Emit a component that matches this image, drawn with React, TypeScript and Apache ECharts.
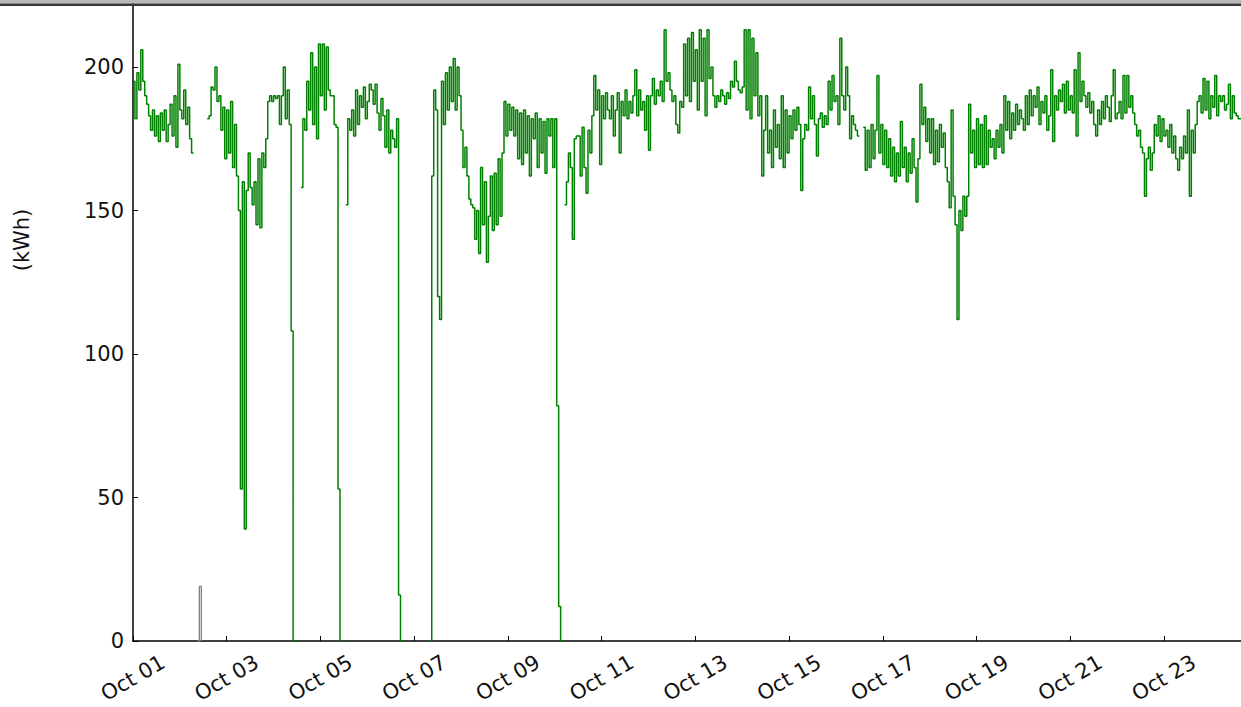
import React, { useEffect, useRef } from "react";
import * as echarts from "echarts";

// Hourly energy readings (kWh), one array of 24 hourly values per day, Oct 01 .. Oct 24
const oct01 = [195,182,198,192,206,195,190,187,183,178,185,176,183,174,184,178,185,174,180,187,176,190,172,201];
const oct02 = [185,182,192,180,186,175,170,null,null,null,null,null,null,null,182,183,193,192,200,188,190,178,186,168];
const oct03 = [185,170,188,165,180,162,150,53,160,39,157,170,158,152,160,145,168,144,170,165,175,188,190,188];
const oct04 = [190,189,190,180,190,200,182,192,180,108,0,null,null,null,158,182,178,195,185,205,180,200,175,208];
const oct05 = [190,208,185,207,192,190,190,180,179,53,0,null,null,152,182,178,185,176,192,180,190,186,193,182];
const oct06 = [188,194,192,187,194,184,178,189,183,172,185,170,178,175,172,182,16,0,null,null,null,null,null,null];
const oct07 = [null,null,null,null,null,null,null,null,0,162,192,185,120,112,195,180,198,185,200,188,203,185,200,190];
const oct08 = [178,165,172,162,154,152,151,140,150,135,165,145,160,132,148,162,143,163,145,168,148,170,188,176];
const oct09 = [187,178,186,176,185,168,184,166,185,170,183,162,182,175,184,165,182,170,181,163,182,176,182,165];
const oct10 = [182,82,12,0,null,152,160,170,165,140,175,176,176,162,179,165,156,178,170,183,197,185,192,166];
const oct11 = [190,182,191,185,182,190,176,185,191,170,188,183,192,182,188,184,190,199,183,192,185,188,178,190];
const oct12 = [171,190,196,187,192,190,195,188,213,195,198,192,188,190,180,177,188,186,208,190,210,188,212,195];
const oct13 = [206,185,213,195,210,183,213,196,200,190,186,190,188,192,190,187,191,189,195,193,202,195,192,191];
const oct14 = [193,213,185,213,182,210,190,205,183,190,162,178,190,170,178,165,185,172,180,168,190,165,185,170];
const oct15 = [183,175,185,178,186,180,157,175,180,178,193,182,190,180,169,182,184,179,183,180,195,185,197,188];
const oct16 = [190,180,210,190,185,200,190,175,183,180,178,176,null,null,179,164,178,165,180,168,178,197,170,180];
const oct17 = [166,178,165,175,162,172,160,170,162,181,165,172,160,170,163,175,165,153,168,194,180,186,174,182];
const oct18 = [170,182,166,178,167,180,172,177,165,160,151,185,155,145,112,150,143,155,148,155,187,170,178,165];
const oct19 = [182,166,180,165,183,166,178,172,175,168,178,172,180,170,190,178,188,175,184,178,187,180,185,182];
const oct20 = [178,190,180,192,183,190,186,193,180,188,184,190,178,183,199,174,190,185,192,188,194,184,195,185];
const oct21 = [190,184,199,176,205,188,195,190,186,191,184,188,180,176,185,180,188,182,190,186,181,190,199,182];
const oct22 = [184,188,182,197,184,197,186,190,184,180,176,178,172,170,155,168,172,164,170,180,176,183,174,182];
const oct23 = [176,178,172,180,170,176,168,164,172,168,176,170,185,155,178,170,180,188,190,184,196,185,195,182];
const oct24 = [190,186,197,183,190,188,190,185,187,194,182,190,184,183,182,182,183,181,182,183,182,184,183,182];

const days = [oct01,oct02,oct03,oct04,oct05,oct06,oct07,oct08,oct09,oct10,oct11,oct12,
  oct13,oct14,oct15,oct16,oct17,oct18,oct19,oct20,oct21,oct22,oct23,oct24];

// second (grey) meter: a single short reading on Oct 02
const greyHours = [33, 34, 35];
const greyValues = [0, 19, 0];

const tickLabels = ["Oct 01","Oct 03","Oct 05","Oct 07","Oct 09","Oct 11","Oct 13","Oct 15","Oct 17","Oct 19","Oct 21","Oct 23"];
const yTicks = [0, 50, 100, 150, 200];

const FONT = "DejaVu Sans";

export default function App() {
  const ref = useRef<HTMLDivElement>(null);
  useEffect(() => {
    if (!ref.current) return;
    const chart = echarts.init(ref.current, null, { renderer: "svg" });
    const mainData: any[] = [];
    days.forEach((vals, d) => vals.forEach((v, h) => mainData.push([d * 24 + h, v])));
    const greyData = greyHours.map((h, i) => [h, greyValues[i]]);
    const OFF = 100; // chart div is shifted up by this many px
    chart.setOption({
      animation: false,
      backgroundColor: "#ffffff",
      grid: { left: 133, right: 54, top: 23.5, bottom: 66, containLabel: false },
      xAxis: {
        type: "value",
        min: 0,
        max: 570,
        interval: 48,
        axisLine: { lineStyle: { color: "#000", width: 1.5 } },
        axisTick: { inside: true, length: 5, lineStyle: { color: "#000" } },
        splitLine: { show: false },
        axisLabel: {
          rotate: 30,
          align: "center",
          verticalAlign: "middle",
          margin: 37,
          showMaxLabel: false,
          fontFamily: FONT,
          fontSize: 21,
          color: "#111",
          formatter: (v: number) => (v % 48 === 0 ? tickLabels[v / 48] ?? "" : ""),
        },
      },
      yAxis: {
        type: "value",
        min: 0,
        max: 250,
        interval: 50,
        axisLine: { show: true, lineStyle: { color: "#000", width: 1.5 } },
        axisTick: { show: true, inside: true, length: 5, lineStyle: { color: "#000" } },
        splitLine: { show: false },
        axisLabel: {
          margin: 9,
          fontFamily: FONT,
          fontSize: 21,
          color: "#111",
          formatter: (v: number) => (yTicks.indexOf(v) >= 0 ? String(v) : ""),
        },
      },
      series: [
        {
          type: "line",
          data: greyData,
          step: "end",
          showSymbol: false,
          lineStyle: { color: "#808080", width: 1.3 },
          z: 2,
        },
        {
          type: "line",
          data: mainData,
          step: "end",
          showSymbol: false,
          connectNulls: false,
          lineStyle: { color: "#008000", width: 1.5 },
          z: 3,
        },
      ],
      graphic: [
        { type: "rect", shape: { x: 0, y: OFF, width: 1300, height: 3.5 }, style: { fill: "#b8b8b8" }, z: 100 },
        { type: "rect", shape: { x: 0, y: OFF + 3.5, width: 1300, height: 2.5 }, style: { fill: "#3a3a3a" }, z: 100 },
        {
          type: "text",
          x: 22,
          y: OFF + 240,
          rotation: Math.PI / 2,
          style: {
            text: "(kWh)",
            fontFamily: FONT,
            fontSize: 21,
            fill: "#111",
            align: "center",
            verticalAlign: "middle",
          },
        },
      ],
    });
    return () => chart.dispose();
  }, []);
  return (
    <div style={{ position: "fixed", left: 0, top: 0, width: 1241, height: 707, overflow: "hidden", background: "#fff" }}>
      <div ref={ref} style={{ position: "absolute", left: 0, top: -100, width: 1300, height: 807 }} />
    </div>
  );
}
